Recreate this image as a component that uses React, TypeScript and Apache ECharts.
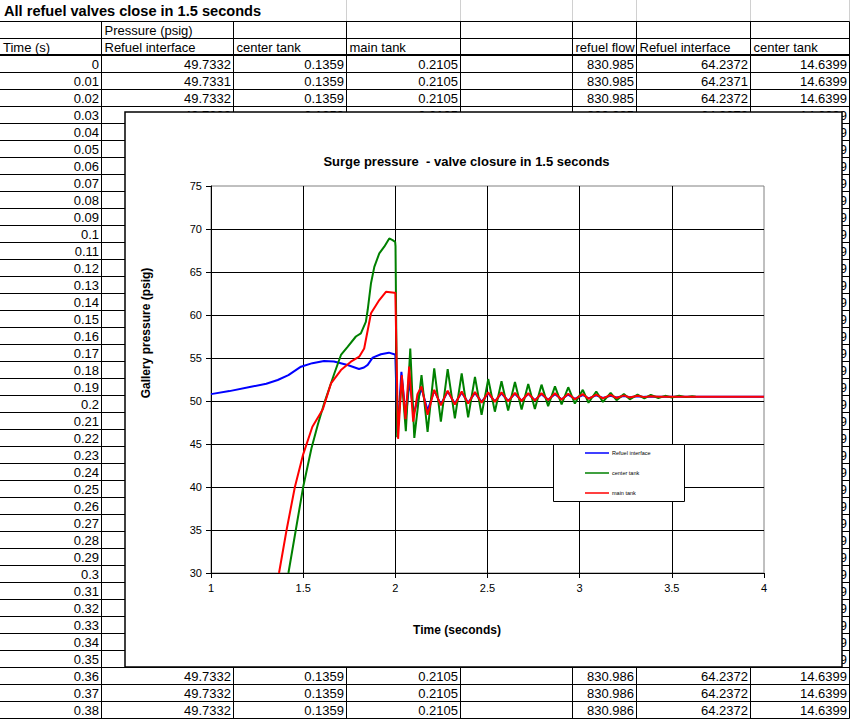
import React, { useEffect, useRef } from "react";
import * as echarts from "echarts";

const FONT = '"Liberation Sans", Arial, sans-serif';

// ---------- spreadsheet content ----------
const sheetTitle = "All refuel valves close in 1.5 seconds";
const headerRow1 = ["", "Pressure (psig)", "", "", "", "", "", ""];
const headerRow2 = ["Time (s)", "Refuel interface", "center tank", "main tank", "", "refuel flow", "Refuel interface", "center tank"];

const timeCol = [
  "0", "0.01", "0.02", "0.03", "0.04", "0.05", "0.06", "0.07", "0.08", "0.09",
  "0.1", "0.11", "0.12", "0.13", "0.14", "0.15", "0.16", "0.17", "0.18", "0.19",
  "0.2", "0.21", "0.22", "0.23", "0.24", "0.25", "0.26", "0.27", "0.28", "0.29",
  "0.3", "0.31", "0.32", "0.33", "0.34", "0.35", "0.36", "0.37", "0.38",
];
const refuelIfaceCol = [
  "49.7332", "49.7331", "49.7332", "49.7332", "49.7332", "49.7332", "49.7332", "49.7332", "49.7332", "49.7332",
  "49.7332", "49.7332", "49.7332", "49.7332", "49.7332", "49.7332", "49.7332", "49.7332", "49.7332", "49.7332",
  "49.7332", "49.7332", "49.7332", "49.7332", "49.7332", "49.7332", "49.7332", "49.7332", "49.7332", "49.7332",
  "49.7332", "49.7332", "49.7332", "49.7332", "49.7332", "49.7332", "49.7332", "49.7332", "49.7332",
];
const centerTankCol = [
  "0.1359", "0.1359", "0.1359", "0.1359", "0.1359", "0.1359", "0.1359", "0.1359", "0.1359", "0.1359",
  "0.1359", "0.1359", "0.1359", "0.1359", "0.1359", "0.1359", "0.1359", "0.1359", "0.1359", "0.1359",
  "0.1359", "0.1359", "0.1359", "0.1359", "0.1359", "0.1359", "0.1359", "0.1359", "0.1359", "0.1359",
  "0.1359", "0.1359", "0.1359", "0.1359", "0.1359", "0.1359", "0.1359", "0.1359", "0.1359",
];
const mainTankCol = [
  "0.2105", "0.2105", "0.2105", "0.2105", "0.2105", "0.2105", "0.2105", "0.2105", "0.2105", "0.2105",
  "0.2105", "0.2105", "0.2105", "0.2105", "0.2105", "0.2105", "0.2105", "0.2105", "0.2105", "0.2105",
  "0.2105", "0.2105", "0.2105", "0.2105", "0.2105", "0.2105", "0.2105", "0.2105", "0.2105", "0.2105",
  "0.2105", "0.2105", "0.2105", "0.2105", "0.2105", "0.2105", "0.2105", "0.2105", "0.2105",
];
const emptyCol = [
  "", "", "", "", "", "", "", "", "", "", "", "", "", "", "", "", "", "", "", "",
  "", "", "", "", "", "", "", "", "", "", "", "", "", "", "", "", "", "", "",
];
const refuelFlowCol = [
  "830.985", "830.985", "830.985", "830.985", "830.985", "830.985", "830.985", "830.985", "830.985", "830.985",
  "830.985", "830.985", "830.985", "830.985", "830.985", "830.985", "830.985", "830.985", "830.986", "830.986",
  "830.986", "830.986", "830.986", "830.986", "830.986", "830.986", "830.986", "830.986", "830.986", "830.986",
  "830.986", "830.986", "830.986", "830.986", "830.986", "830.986", "830.986", "830.986", "830.986",
];
const refuelIface2Col = [
  "64.2372", "64.2371", "64.2372", "64.2372", "64.2372", "64.2372", "64.2372", "64.2372", "64.2372", "64.2372",
  "64.2372", "64.2372", "64.2372", "64.2372", "64.2372", "64.2372", "64.2372", "64.2372", "64.2372", "64.2372",
  "64.2372", "64.2372", "64.2372", "64.2372", "64.2372", "64.2372", "64.2372", "64.2372", "64.2372", "64.2372",
  "64.2372", "64.2372", "64.2372", "64.2372", "64.2372", "64.2372", "64.2372", "64.2372", "64.2372",
];
const centerTank2Col = [
  "14.6399", "14.6399", "14.6399", "14.6399", "14.6399", "14.6399", "14.6399", "14.6399", "14.6399", "14.6399",
  "14.6399", "14.6399", "14.6399", "14.6399", "14.6399", "14.6399", "14.6399", "14.6399", "14.6399", "14.6399",
  "14.6399", "14.6399", "14.6399", "14.6399", "14.6399", "14.6399", "14.6399", "14.6399", "14.6399", "14.6399",
  "14.6399", "14.6399", "14.6399", "14.6399", "14.6399", "14.6399", "14.6399", "14.6399", "14.6399",
];

// ---------- chart content ----------
const chartTitle = "Surge pressure  - valve closure in 1.5 seconds";
const xAxisTitle = "Time (seconds)";
const yAxisTitle = "Gallery pressure (psig)";
const seriesNames = ["Refuel interface", "center tank", "main tank"];
const xMin = 1, xMax = 4, xStep = 0.5;
const yMin = 30, yMax = 75, yStep = 5;

const refuelInterfaceData = [
  [1.0, 50.8], [1.1, 51.15], [1.217, 51.66], [1.3, 52.0], [1.362, 52.44], [1.42, 53.0], [1.488, 53.99],
  [1.55, 54.4], [1.613, 54.65], [1.667, 54.6], [1.741, 54.19], [1.803, 53.72], [1.83, 53.9], [1.85, 54.2],
  [1.877, 55.04], [1.922, 55.43], [1.965, 55.62], [1.998, 55.4],
  [2.0, 55.3], [2.012, 46.3], [2.033, 53.4], [2.057, 48.1], [2.077, 52.3], [2.1, 48.6], [2.142, 51.5],
  [2.175, 48.9], [2.211, 51.2], [2.247, 49.6], [2.284, 51.1], [2.323, 49.7], [2.36, 51.0], [2.395, 49.8],
  [2.432, 50.95], [2.468, 49.9], [2.504, 50.9], [2.54, 49.95], [2.576, 50.9], [2.612, 50.0], [2.649, 50.85],
  [2.685, 50.05], [2.721, 50.85], [2.757, 50.1], [2.793, 50.8], [2.829, 50.15], [2.866, 50.8], [2.902, 50.2],
  [2.938, 50.75], [2.974, 50.25], [3.017, 50.7], [3.048, 50.3], [3.09, 50.65], [3.126, 50.35], [3.168, 50.6],
  [3.2, 50.4], [3.24, 50.58], [3.272, 50.45], [3.314, 50.55], [3.351, 50.48], [3.4, 50.5], [4.0, 50.5],
];
const centerTankData = [
  [1.42, 30], [1.46, 35], [1.5, 40], [1.545, 44.5], [1.58, 47.3], [1.614, 49.73], [1.669, 53.2],
  [1.705, 55.35], [1.741, 56.3], [1.786, 57.5], [1.813, 57.87], [1.84, 59.2], [1.85, 60.58], [1.868, 63.7],
  [1.886, 65.6], [1.913, 67.17], [1.94, 67.94], [1.967, 68.9], [1.985, 68.7], [1.999, 68.5],
  [2.001, 68.0], [2.01, 45.8], [2.035, 52.5], [2.057, 46.5], [2.081, 56.1], [2.103, 45.7], [2.142, 53.0],
  [2.175, 46.4], [2.211, 53.8], [2.247, 47.6], [2.284, 53.7], [2.323, 47.98], [2.36, 53.2], [2.395, 48.1],
  [2.432, 52.8], [2.468, 48.4], [2.504, 52.55], [2.54, 48.76], [2.576, 52.3], [2.612, 48.9], [2.649, 52.2],
  [2.685, 49.0], [2.721, 51.98], [2.757, 49.07], [2.793, 51.9], [2.829, 49.4], [2.866, 51.7], [2.902, 49.6],
  [2.938, 51.6], [2.974, 49.7], [3.017, 51.3], [3.048, 49.8], [3.09, 51.1], [3.126, 49.9], [3.168, 50.95],
  [3.2, 50.1], [3.24, 50.8], [3.272, 50.2], [3.314, 50.75], [3.351, 50.3], [3.386, 50.7], [3.427, 50.35],
  [3.464, 50.6], [3.5, 50.4], [3.54, 50.6], [3.576, 50.45], [3.61, 50.55], [3.63, 50.5],
];
const mainTankData = [
  [1.369, 30], [1.41, 35], [1.455, 40], [1.5, 43.8], [1.55, 47.0], [1.606, 49.0], [1.651, 52.05],
  [1.705, 53.6], [1.759, 54.57], [1.804, 55.15], [1.831, 56.1], [1.868, 60.2], [1.913, 61.74], [1.949, 62.7],
  [1.994, 62.6],
  [2.0, 62.6], [2.015, 45.6], [2.035, 53.0], [2.055, 47.9], [2.075, 54.0], [2.097, 47.6], [2.12, 50.8],
  [2.142, 51.7], [2.175, 48.4], [2.211, 51.3], [2.247, 49.5], [2.284, 51.2], [2.323, 49.6], [2.36, 51.1],
  [2.395, 49.7], [2.432, 51.05], [2.468, 49.8], [2.504, 51.0], [2.54, 49.9], [2.576, 51.0], [2.612, 49.95],
  [2.649, 50.95], [2.685, 50.0], [2.721, 50.9], [2.757, 50.05], [2.793, 50.9], [2.829, 50.1], [2.866, 50.9],
  [2.902, 50.15], [2.938, 50.85], [2.974, 50.2], [3.017, 50.8], [3.048, 50.25], [3.09, 50.75], [3.126, 50.3],
  [3.168, 50.7], [3.2, 50.35], [3.24, 50.65], [3.272, 50.4], [3.314, 50.6], [3.351, 50.45], [3.386, 50.55],
  [3.427, 50.5], [4.0, 50.5],
];
const seriesColors = ["#0000ff", "#008000", "#ff0000"];

// ---------- layout ----------
const colEdges = [0, 101.5, 233.5, 346.5, 460.5, 572.5, 636.5, 750.5, 849.5];
const ROW_H = 17;
const DATA_TOP = 55;
const BOX = { x: 125, y: 112, width: 717, height: 555 };
const CELL_TEXT_W = 56;

function textEl(text: string, x: number, y: number, font: string, align: string, z: number, extra: any = {}) {
  return {
    type: "text", x, y, z, silent: true, ...extra,
    style: { text, font, fill: "#000", align, verticalAlign: "middle", textAlign: align, textVerticalAlign: "middle" },
  };
}
function lineEl(x1: number, y1: number, x2: number, y2: number, stroke: string, lineWidth: number, z: number) {
  return { type: "line", z, silent: true, shape: { x1, y1, x2, y2 }, style: { stroke, lineWidth } };
}

export default function App() {
  const ref = useRef<HTMLDivElement>(null);
  useEffect(() => {
    if (!ref.current) return;
    const chart = echarts.init(ref.current, null, { renderer: "svg", width: 851, height: 720 });
    const cellFont = `13px ${FONT}`;
    const els: any[] = [];
    const tableRight = colEdges[colEdges.length - 1];
    const tableBottom = DATA_TOP + 0.5 + ROW_H * timeCol.length;

    // title row faint gridlines
    for (let c = 3; c < colEdges.length; c++) els.push(lineEl(colEdges[c], 0, colEdges[c], 21, "#d0d0d0", 1, 0));
    els.push(textEl(sheetTitle, 4, 11, `bold 14.6px ${FONT}`, "left", 0));
    // header lines
    els.push(lineEl(0, 21.5, tableRight, 21.5, "#000", 1, 0));
    els.push(lineEl(0, 38.5, tableRight, 38.5, "#000", 1, 0));
    els.push(lineEl(0, DATA_TOP, tableRight, DATA_TOP, "#000", 2, 0));
    for (let k = 1; k <= timeCol.length; k++) {
      const y = DATA_TOP + 0.5 + ROW_H * k;
      els.push(lineEl(0, y, tableRight, y, "#000", 1, 0));
    }
    for (let c = 1; c < colEdges.length; c++) els.push(lineEl(colEdges[c], 21.5, colEdges[c], tableBottom, "#000", 1, 0));
    headerRow1.forEach((t, c) => { if (t) els.push(textEl(t, colEdges[c] + 3, 30, cellFont, "left", 0)); });
    headerRow2.forEach((t, c) => { if (t) els.push(textEl(t, colEdges[c] + 3, 47, cellFont, "left", 0)); });
    const cols = [timeCol, refuelIfaceCol, centerTankCol, mainTankCol, emptyCol, refuelFlowCol, refuelIface2Col, centerTank2Col];
    cols.forEach((col, c) => {
      col.forEach((t, r) => {
        const cy = DATA_TOP + 9 + ROW_H * r;
        const right = colEdges[c + 1] - 2.5;
        const textLeft = right - CELL_TEXT_W;
        // cells whose text lies wholly under the chart box are hidden in the sheet
        const hidden = cy - 7 > BOX.y && cy + 7 < BOX.y + BOX.height && textLeft > BOX.x && right < BOX.x + BOX.width;
        if (t && !hidden) els.push(textEl(t, right, cy, cellFont, "right", 0));
      });
    });

    // chart box
    els.push({ type: "rect", z: 1, silent: true, shape: BOX, style: { fill: "#fff", stroke: "#000", lineWidth: 1.5 } });
    els.push(textEl(chartTitle, 466.5, 161, `bold 13px ${FONT}`, "center", 5));
    els.push(textEl(yAxisTitle, 146, 333, `bold 12px ${FONT}`, "center", 5, { rotation: Math.PI / 2 }));
    els.push(textEl(xAxisTitle, 457, 630, `bold 12px ${FONT}`, "center", 5));

    // legend
    els.push({ type: "rect", z: 6, silent: true, shape: { x: 553.5, y: 444.5, width: 131, height: 57 }, style: { fill: "#fff", stroke: "#000", lineWidth: 1 } });
    seriesNames.forEach((n, i) => {
      const y = 453 + 20 * i;
      els.push(lineEl(585, y, 609, y, seriesColors[i], 1.5, 7));
      els.push(textEl(n, 612, y, `5.5px ${FONT}`, "left", 7));
    });

    const axisCommon = {
      z: 3,
      axisLine: { show: true, onZero: false, lineStyle: { color: "#000", width: 1 } },
      axisTick: { show: true, inside: false, length: 5, lineStyle: { color: "#000", width: 1 } },
      axisLabel: { color: "#000", fontSize: 11, fontFamily: FONT, margin: 9 },
      splitLine: { show: true, showMinLine: false, showMaxLine: false, lineStyle: { color: "#000", width: 1 } },
    };

    chart.setOption({
      animation: false,
      backgroundColor: "transparent",
      grid: {
        left: 211, top: 186, width: 553, height: 387, show: true, z: 2,
        borderColor: "#808080", borderWidth: 1, backgroundColor: "transparent",
        containLabel: false, outerBoundsMode: "none",
      },
      xAxis: { type: "value", min: xMin, max: xMax, interval: xStep, ...axisCommon },
      yAxis: { type: "value", min: yMin, max: yMax, interval: yStep, ...axisCommon },
      graphic: { elements: els },
      series: [refuelInterfaceData, centerTankData, mainTankData].map((d, i) => ({
        name: seriesNames[i],
        type: "line",
        data: d,
        z: 4,
        symbol: "none",
        showSymbol: false,
        clip: true,
        color: seriesColors[i],
        lineStyle: { color: seriesColors[i], width: 2 },
      })),
    });
    return () => chart.dispose();
  }, []);
  return <div ref={ref} style={{ position: "absolute", left: 0, top: 0, width: 851, height: 720, background: "#fff" }} />;
}
